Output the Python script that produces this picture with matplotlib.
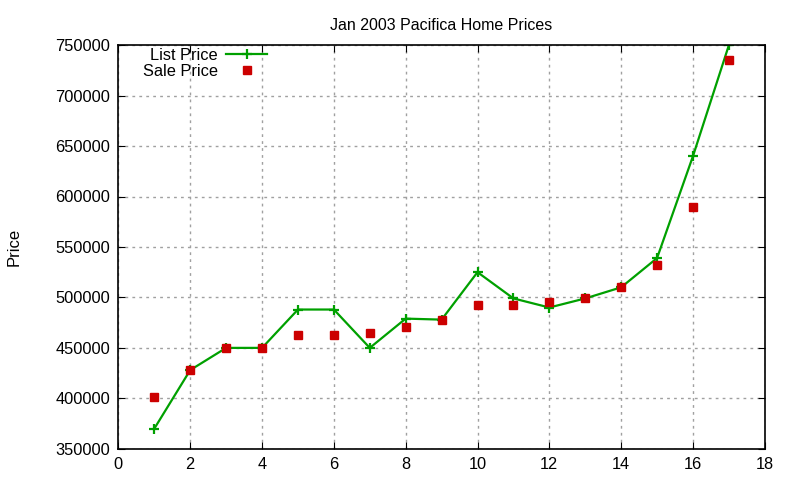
import matplotlib
matplotlib.use('Agg')
import matplotlib.pyplot as plt

plt.rcParams['font.family'] = ['Liberation Sans', 'DejaVu Sans']

house = [1, 2, 3, 4, 5, 6, 7, 8, 9, 10, 11, 12, 13, 14, 15, 16, 17]
list_price = [370000, 428000, 450000, 450000, 488000, 488000, 450000, 479000, 478000,
              525000, 499000, 490000, 499000, 510000, 539000, 640000, 750000]
sale_price = [401000, 428000, 450000, 450000, 463000, 463000, 465000, 471000, 478000,
              492000, 492000, 495000, 499000, 510000, 532000, 590000, 735000]

fig = plt.figure(figsize=(8, 4.8), dpi=100)
fig.subplots_adjust(left=0.148, right=0.956, top=0.906, bottom=0.065)
ax = fig.add_subplot(111)

ax.plot(house, list_price, '-', marker='+', color='#00a000', lw=1.6,
        markersize=6.5, markeredgewidth=1.6, label='List Price')
ax.plot(house, sale_price, 's', color='#cc0000', markersize=6, lw=0,
        label='Sale Price')

ax.set_xlim(0, 18)
ax.set_ylim(350000, 750000)
ax.set_xticks(range(0, 19, 2))
ax.set_yticks(range(350000, 750001, 50000))
ax.ticklabel_format(style='plain', axis='y', useOffset=False)
ax.tick_params(direction='in', top=True, right=True, labelsize=11.8, length=5, pad=6)
ax.grid(True, color='#a0a0a0', linestyle=(0, (2, 3)), lw=1)
for s in ax.spines.values():
    s.set_linewidth(1.2)

ax.set_title('Jan 2003 Pacifica Home Prices', fontsize=11.5, pad=11)
ax.set_ylabel('Price', fontsize=12, labelpad=24)

ax.legend(loc='upper left', bbox_to_anchor=(0.015, 1.03), frameon=False, markerfirst=False,
          fontsize=11.8, handlelength=2.5, handletextpad=0.5, labelspacing=0.05,
          alignment='right')

fig.savefig('out.png')
